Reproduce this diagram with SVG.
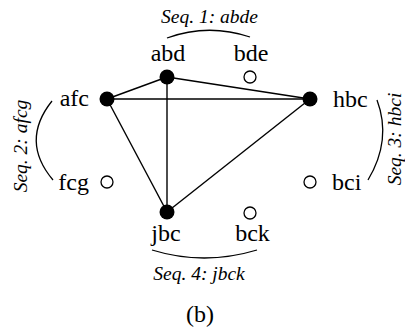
<svg xmlns="http://www.w3.org/2000/svg" width="405" height="328" viewBox="0 0 405 328">
<style>
text{font-family:'Liberation Serif','DejaVu Serif',serif;fill:#000}
.lbl{font-size:24px}
.seq{font-size:19.5px;font-style:italic}
.edge{stroke:#000;stroke-width:1.4;fill:none}
.arc{stroke:#000;stroke-width:1.3;fill:none}
.full{fill:#000;stroke:none}
.empty{fill:#fff;stroke:#000;stroke-width:1.3}
</style>
<rect width="405" height="328" fill="#fff"/>
<g id="connectors">
<line class="edge" x1="107" y1="99" x2="167" y2="77"/>
<line class="edge" x1="167" y1="77" x2="310" y2="99"/>
<line class="edge" x1="107" y1="99" x2="310" y2="99"/>
<line class="edge" x1="107" y1="99" x2="167" y2="212"/>
<line class="edge" x1="167" y1="77" x2="167" y2="212"/>
<line class="edge" x1="310" y1="99" x2="167" y2="212"/>
</g>
<g id="node-abd"><circle class="full" cx="167" cy="77" r="7.5"/><text class="lbl" x="168" y="61" text-anchor="middle">abd</text></g>
<g id="node-bde"><circle class="empty" cx="250" cy="77" r="6"/><text class="lbl" x="251" y="61" text-anchor="middle">bde</text></g>
<g id="node-afc"><circle class="full" cx="107" cy="99" r="7.5"/><text class="lbl" x="89" y="106" text-anchor="end">afc</text></g>
<g id="node-hbc"><circle class="full" cx="310" cy="99" r="7.5"/><text class="lbl" x="333" y="106.5">hbc</text></g>
<g id="node-fcg"><circle class="empty" cx="107" cy="182" r="6"/><text class="lbl" x="89" y="189.5" text-anchor="end">fcg</text></g>
<g id="node-bci"><circle class="empty" cx="310" cy="182" r="6"/><text class="lbl" x="332" y="189.5">bci</text></g>
<g id="node-jbc"><circle class="full" cx="167" cy="212" r="7.5"/><text class="lbl" x="166" y="241" text-anchor="middle">jbc</text></g>
<g id="node-bck"><circle class="empty" cx="250" cy="213" r="6"/><text class="lbl" x="252.5" y="241" text-anchor="middle">bck</text></g>
<g id="seq1"><path class="arc" d="M167,38 Q208,23 250,37"/><text class="seq" x="209.5" y="23" text-anchor="middle">Seq. 1: abde</text></g>
<g id="seq2"><path class="arc" d="M52,101 Q20,141 53,180"/><text class="seq" transform="translate(26.5,146) rotate(-90)" text-anchor="middle">Seq. 2: afcg</text></g>
<g id="seq3"><path class="arc" d="M377,100 Q392,140 368,180"/><text class="seq" transform="translate(401,139) rotate(-90)" text-anchor="middle">Seq. 3: hbci</text></g>
<g id="seq4"><path class="arc" d="M152,250 Q204,266 257,250"/><text class="seq" x="199" y="280" text-anchor="middle">Seq. 4: jbck</text></g>
<text class="lbl" x="200" y="322" text-anchor="middle">(b)</text>
</svg>
